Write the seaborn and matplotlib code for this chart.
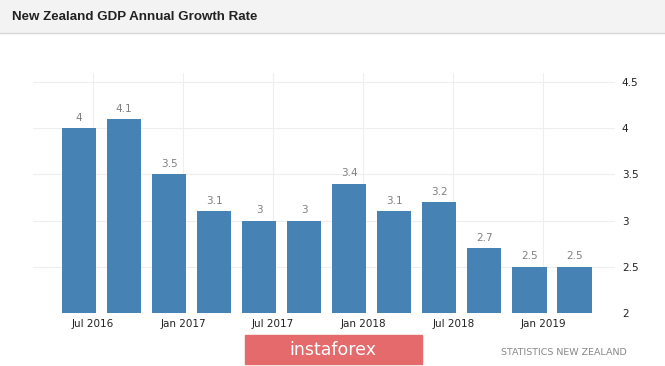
import seaborn as sns
import matplotlib.pyplot as plt
import pandas as pd
import numpy as np

# quarterly GDP annual growth, NZ
quarters = ['Jun 2016', 'Sep 2016', 'Dec 2016', 'Mar 2017', 'Jun 2017', 'Sep 2017',
            'Dec 2017', 'Mar 2018', 'Jun 2018', 'Sep 2018', 'Dec 2018', 'Mar 2019']
growth = [4.0, 4.1, 3.5, 3.1, 3.0, 3.0, 3.4, 3.1, 3.2, 2.7, 2.5, 2.5]
tick_labels = ['Jul 2016', 'Jan 2017', 'Jul 2017', 'Jan 2018', 'Jul 2018', 'Jan 2019']
y_ticks = [2, 2.5, 3, 3.5, 4, 4.5]

dados = pd.DataFrame({'Trimestre': quarters, 'Crescimento': growth})

sns.set_style("white")
fig = plt.figure(figsize=(6.65, 3.66), dpi=100)

# faixa do titulo
fig.patches.append(plt.Rectangle((0, 0.91), 1, 0.09, transform=fig.transFigure,
                                 color='#f3f3f3', zorder=0))
fig.lines.append(plt.Line2D([0, 1], [0.909, 0.909], transform=fig.transFigure,
                            color='#d8d8d8', lw=1))
fig.text(0.018, 0.954, 'New Zealand GDP Annual Growth Rate', fontsize=9.6,
         fontweight='bold', color='#222222', va='center', family='Liberation Sans')

ax = fig.add_axes([0.0496, 0.1448, 0.8752, 0.656])
sns.barplot(x='Trimestre', y='Crescimento', data=dados, color='#4682b4',
            saturation=1, width=0.76, linewidth=0, ax=ax, zorder=3)

ax.bar_label(ax.containers[0], fmt='%g', padding=4, color='#808080', fontsize=7.5)

ax.set_ylim(2, 4.6)
ax.set_xlim(-1.02, 11.9)
ax.set_yticks(y_ticks)
ax.set_yticklabels(['%g' % v for v in y_ticks])
ax.yaxis.tick_right()
ax.set_xticks([0.31 + 2 * i for i in range(len(tick_labels))])
ax.set_xticklabels(tick_labels)
ax.tick_params(axis='both', length=0, labelsize=7.5, labelcolor='#222222')
ax.tick_params(axis='y', pad=5)
ax.tick_params(axis='x', pad=4)
ax.grid(True, color='#eeeeee', lw=0.8, zorder=0)
ax.set_axisbelow(True)
for s in ax.spines.values():
    s.set_visible(False)
ax.set_xlabel('')
ax.set_ylabel('')

# marca d'agua e fonte
fig.patches.append(plt.Rectangle((0.368, 0.005), 0.267, 0.08, transform=fig.transFigure,
                                 color='#e46a6b', zorder=1))
fig.text(0.501, 0.045, 'instaforex', fontsize=12.5, color='white', ha='center',
         va='center', zorder=2)
fig.text(0.942, 0.038, 'STATISTICS NEW ZEALAND', fontsize=6.8, color='#888888',
         ha='right', va='center')

plt.savefig('out.png', dpi=100)
